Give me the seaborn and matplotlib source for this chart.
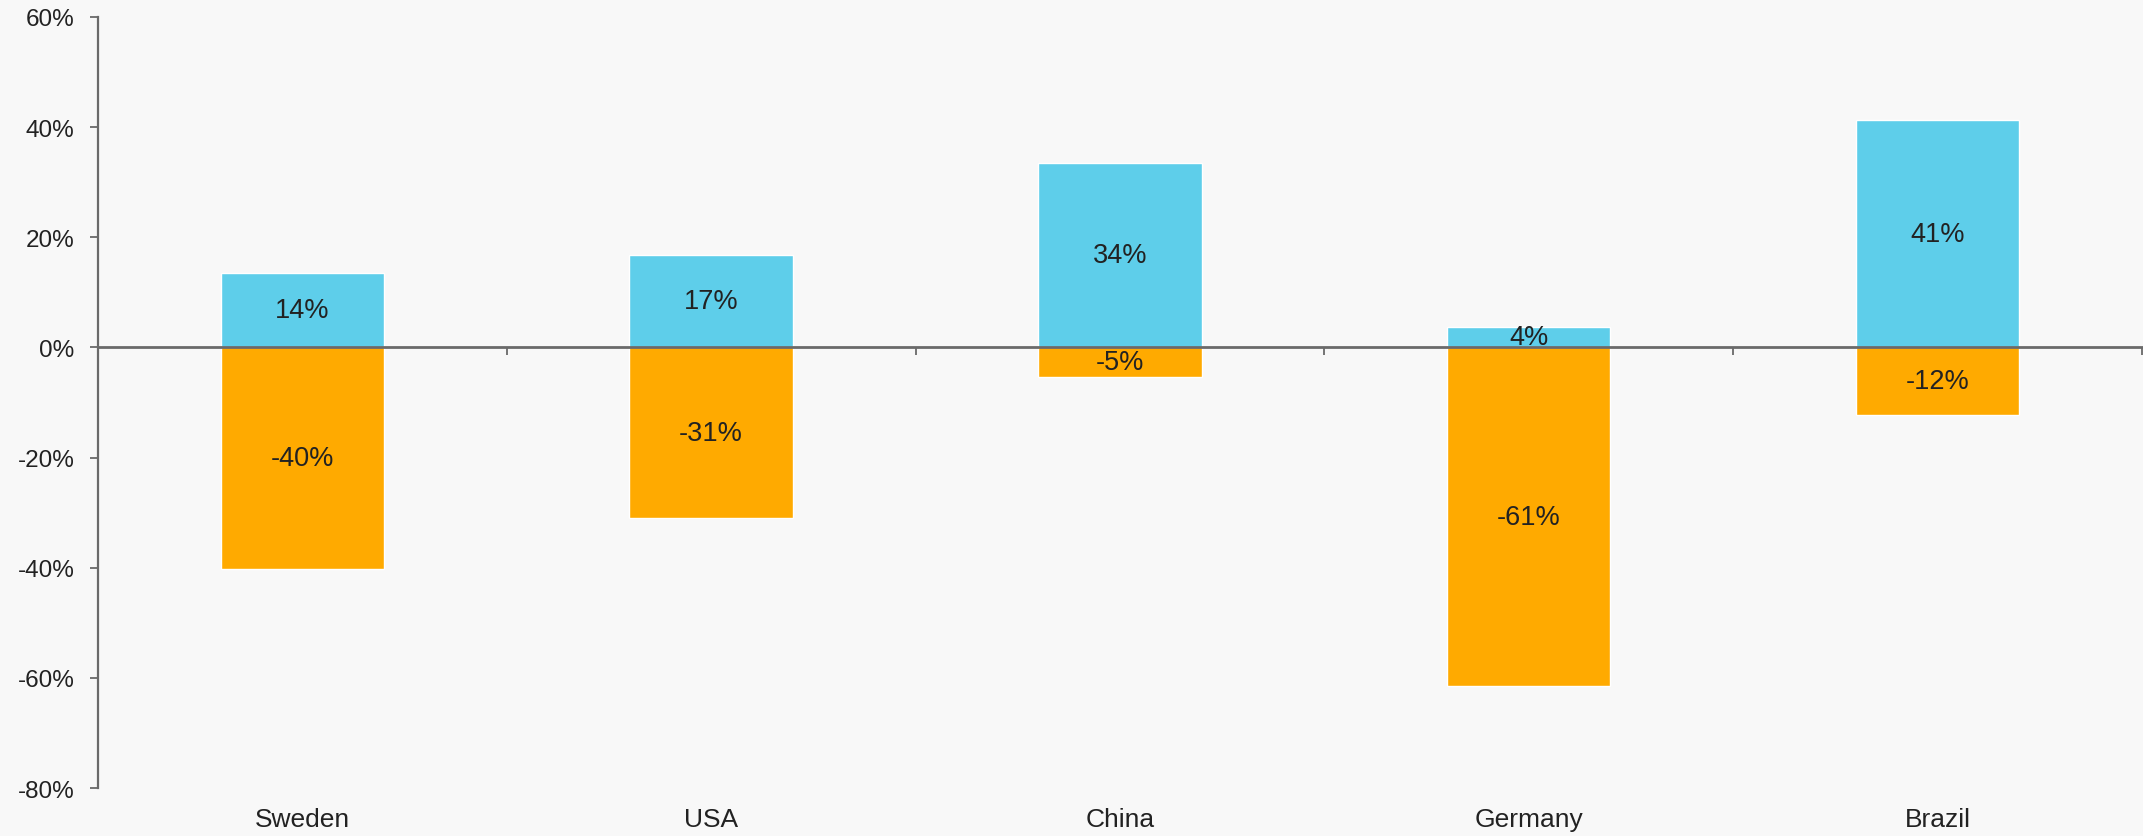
import matplotlib
matplotlib.use("Agg")
import matplotlib.pyplot as plt
import seaborn as sns
import pandas as pd

# Data: percentage change per country
countries = ["Sweden", "USA", "China", "Germany", "Brazil"]
gains = [13.6, 16.8, 33.5, 3.8, 41.3]
losses = [-40.2, -30.9, -5.3, -61.4, -12.2]
y_ticks = [-80, -60, -40, -20, 0, 20, 40, 60]

BLUE = "#5ECEEA"
ORANGE = "#FFAA00"
BG = "#F8F8F8"
AXIS = "#6A6A6A"
TEXT = "#222222"

sns.set_theme(style="white")
plt.rcParams["font.family"] = ["Liberation Sans", "DejaVu Sans"]

df = pd.DataFrame({"country": countries, "gain": gains, "loss": losses})

fig = plt.figure(figsize=(21.43, 8.37), dpi=100, facecolor=BG)
ax = fig.add_axes([0.0457, 0.0573, 0.9538, 0.9212])
ax.set_facecolor(BG)

sns.barplot(data=df, x="country", y="gain", color=BLUE, width=0.4,
            saturation=1, ax=ax, zorder=2)
sns.barplot(data=df, x="country", y="loss", color=ORANGE, width=0.4,
            saturation=1, ax=ax, zorder=2)

# Value labels in the middle of each bar
for i, (g, l) in enumerate(zip(gains, losses)):
    ax.text(i, g / 2, f"{g:.0f}%", ha="center", va="center",
            fontsize=19.5, color=TEXT, zorder=5)
    ax.text(i, l / 2, f"{l:.0f}%", ha="center", va="center",
            fontsize=19.5, color=TEXT, zorder=5)

ax.set_xlim(-0.5, len(countries) - 0.5)
ax.set_ylim(-80, 60)
ax.set_xlabel("")
ax.set_ylabel("")

# Y axis
ax.set_yticks(y_ticks)
ax.set_yticklabels([f"{v}%" for v in y_ticks], fontsize=17.5, color=TEXT)
ax.tick_params(axis="y", direction="out", length=6, width=1.3,
               color=AXIS, pad=11, left=True)
for side in ["top", "right", "bottom"]:
    ax.spines[side].set_visible(False)
ax.spines["left"].set_color(AXIS)
ax.spines["left"].set_linewidth(1.6)

# Category names along the bottom
ax.set_xticks(range(len(countries)))
ax.set_xticklabels(countries, fontsize=19, color=TEXT)
ax.tick_params(axis="x", length=0, pad=14)

# Zero line with category separator ticks pointing downward
zero_frac = (0 - (-80)) / (60 - (-80))
sec = ax.secondary_xaxis(zero_frac)
sec.set_xticks([i + 0.5 for i in range(len(countries))])
sec.set_xticklabels([])
sec.tick_params(axis="x", direction="in", length=6, width=1.3, color=AXIS)
for side in ["left", "right", "bottom"]:
    sec.spines[side].set_visible(False)
sec.spines["top"].set_color(AXIS)
sec.spines["top"].set_linewidth(2)
sec.spines["bottom"].set_color(AXIS)
sec.spines["bottom"].set_linewidth(2)
sec.set_zorder(4)

fig.savefig("out.png", dpi=100, facecolor=BG)
